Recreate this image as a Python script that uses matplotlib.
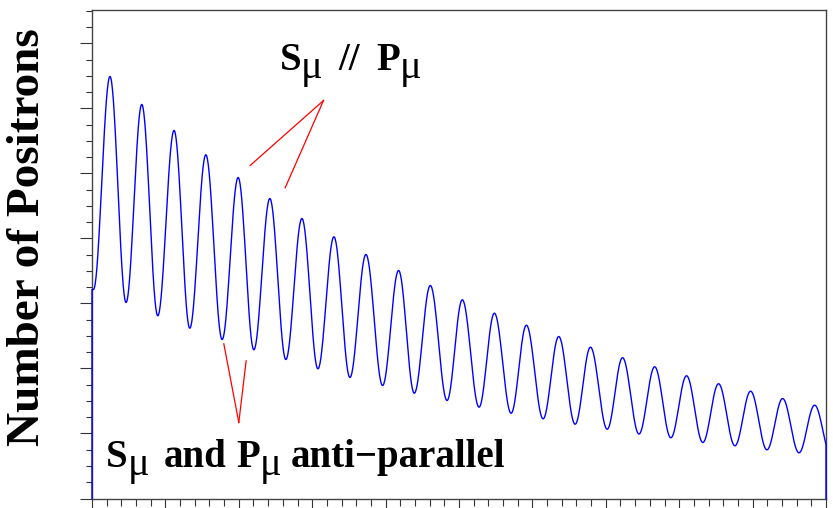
import numpy as np
import matplotlib
matplotlib.use("Agg")
import matplotlib.pyplot as plt
from matplotlib.ticker import MultipleLocator, NullFormatter

# ---- values (x: 0..10, y: 0..7.5, arbitrary units) ----
peak_x = [0.245, 0.678, 1.118, 1.551, 1.991, 2.423, 2.860, 3.296, 3.732, 4.177,
          4.609, 5.045, 5.482, 5.918, 6.359, 6.791, 7.228, 7.666, 8.100, 8.536,
          8.973, 9.409, 9.845]
peak_y = [6.492, 6.062, 5.662, 5.288, 4.938, 4.615, 4.308, 4.026, 3.754, 3.508,
          3.277, 3.057, 2.851, 2.666, 2.492, 2.328, 2.166, 2.026, 1.888, 1.765,
          1.651, 1.538, 1.435]
trough_x = [0.020, 0.464, 0.896, 1.332, 1.773, 2.205, 2.641, 3.078, 3.514, 3.959,
            4.391, 4.837, 5.273, 5.710, 6.146, 6.582, 7.019, 7.452, 7.886, 8.322,
            8.759, 9.195, 9.632, 10.068]
trough_y = [3.215, 3.015, 2.811, 2.620, 2.446, 2.288, 2.138, 1.995, 1.862, 1.738,
            1.620, 1.508, 1.405, 1.312, 1.226, 1.143, 1.066, 0.992, 0.934, 0.862,
            0.811, 0.749, 0.703, 0.662]

X_MAX = 10.0
Y_MAX = 7.515

# annotation pointer lines (data coords)
upper_apex = (3.154, 6.123)
upper_ends = [(2.155, 5.123), (2.632, 4.780)]
lower_apex = (2.000, 1.169)
lower_ends = [(1.796, 2.380), (2.100, 2.118)]

# ---- build the wiggle: alternate trough/peak, half-cosine between extrema ----
ext_x, ext_y = [], []
for i in range(len(trough_x)):
    ext_x.append(trough_x[i]); ext_y.append(trough_y[i])
    if i < len(peak_x):
        ext_x.append(peak_x[i]); ext_y.append(peak_y[i])

xs, ys = [], []
for (x0, y0), (x1, y1) in zip(zip(ext_x[:-1], ext_y[:-1]), zip(ext_x[1:], ext_y[1:])):
    s = np.linspace(0, 1, 40)
    xs.append(x0 + (x1 - x0) * s)
    ys.append(y1 + (y0 - y1) * (1 + np.cos(np.pi * s)) / 2)
xs = np.concatenate(xs)
ys = np.concatenate(ys)
y_end = np.interp(X_MAX, xs, ys)
keep = xs <= X_MAX
xs = np.concatenate([[0.0, 0.0], xs[keep], [X_MAX, X_MAX]])
ys = np.concatenate([[0.0, ys[0]], ys[keep], [y_end, 0.0]])

# ---- figure ----
W, H = 833, 508
fig = plt.figure(figsize=(W / 100, H / 100), dpi=100)
ax = fig.add_axes([92 / W, 9.5 / H, 734 / W, 488.5 / H])

ax.plot(xs, ys, color='#0000ff', lw=1.0, clip_on=False, zorder=3)

for end in upper_ends:
    ax.plot([end[0], upper_apex[0]], [end[1], upper_apex[1]], color='#ff0000', lw=0.9)
for end in lower_ends:
    ax.plot([end[0], lower_apex[0]], [end[1], lower_apex[1]], color='#ff0000', lw=0.9)


# labels built piece by piece (bold letters, plain lowered mu), positions in pixels
def piece(px, py, s, bold=True, size=28):
    fig.text(px / W, 1 - py / H, s, fontsize=size,
             fontweight='bold' if bold else 'normal',
             family='Liberation Serif', ha='left', va='baseline')


piece(280, 70, "S")
piece(301, 78, "μ", bold=False, size=29)
piece(338, 70, "//")
piece(376, 70, "P")
piece(400, 78, "μ", bold=False, size=29)

piece(106, 467, "S")
piece(128, 475, "μ", bold=False, size=29)
piece(164, 467, "and")
piece(236, 467, "P")
piece(260, 475, "μ", bold=False, size=29)
piece(291, 467, "anti−parallel")

fig.text(0.034, 0.534, "Number of Positrons", rotation=90, fontsize=34,
         fontweight='bold', family='Liberation Serif', ha='center', va='center')

ax.set_xlim(0, X_MAX)
ax.set_ylim(0, Y_MAX)
ax.xaxis.set_major_locator(MultipleLocator(1))
ax.xaxis.set_minor_locator(MultipleLocator(0.2))
ax.yaxis.set_major_locator(MultipleLocator(1))
ax.yaxis.set_minor_locator(MultipleLocator(0.25))
ax.xaxis.set_major_formatter(NullFormatter())
ax.yaxis.set_major_formatter(NullFormatter())
ax.tick_params(axis='y', which='major', direction='out', length=8.6, width=0.8, color='#333333')
ax.tick_params(axis='y', which='minor', direction='out', length=4.3, width=0.8, color='#333333')
ax.tick_params(axis='x', which='major', direction='out', length=6.5, width=0.8, color='#333333')
ax.tick_params(axis='x', which='minor', direction='out', length=5, width=0.8, color='#333333')
for sp in ax.spines.values():
    sp.set_color('#444444')
    sp.set_linewidth(1.0)

fig.savefig("out.png", dpi=100)
